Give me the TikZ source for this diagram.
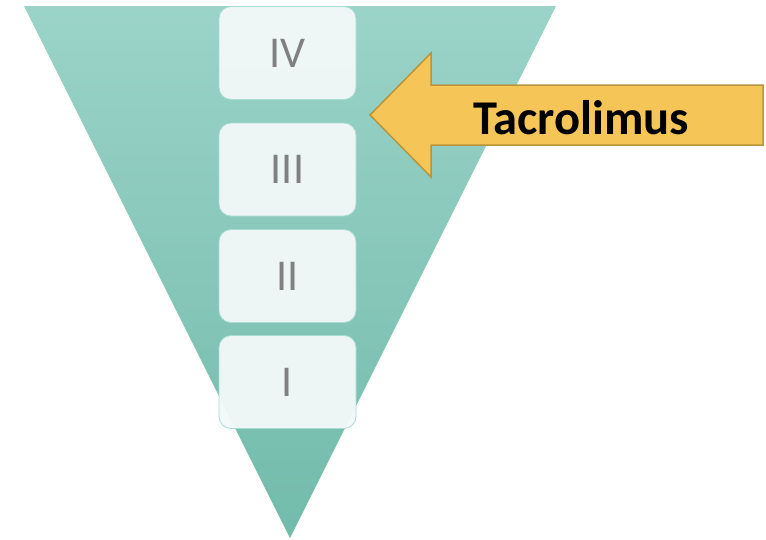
\documentclass[tikz,border=0pt]{standalone}
\usepackage{fontspec}
\setmainfont{Carlito}
\definecolor{tritop}{HTML}{9BD3C8}
\definecolor{tribot}{HTML}{72BBAA}
\definecolor{boxfill}{HTML}{F2F8F8}
\definecolor{boxline}{HTML}{A8DCD2}
\definecolor{numgray}{HTML}{808080}
\definecolor{arrfill}{HTML}{F5C557}
\definecolor{arrline}{HTML}{B8953C}
\tikzset{
  levelbox/.style={draw=boxline, line width=0.8pt, fill=boxfill, fill opacity=0.96, text opacity=1,
    rounded corners=12pt, minimum width=137pt, minimum height=93pt, inner sep=0pt,
    font=\fontsize{44}{44}\selectfont, text=numgray},
  arrowshape/.style={fill=arrfill, draw=arrline, line width=1.5pt, line join=miter},
}
\begin{document}
\begin{tikzpicture}[x=1pt,y=-1pt]
\useasboundingbox (0,0) rectangle (766,539);
\shade[top color=tritop, bottom color=tribot] (24,6) -- (556,6) -- (290,538) -- cycle;
\node[levelbox] (iv) at (287.5,53) {IV};
\node[levelbox] (iii) at (287.5,169.5) {III};
\node[levelbox] (ii) at (287.5,276) {II};
\node[levelbox] (i) at (287.5,382) {I};
\draw[arrowshape] (370,115) -- (431,53) -- (431,85) -- (763,85) -- (763,145) -- (431,145) -- (431,177) -- cycle;
\node[font=\fontsize{48.5}{48.5}\selectfont\bfseries, text=black, inner sep=0pt] (tac) at (581,118) {Tacrolimus};
\end{tikzpicture}
\end{document}
